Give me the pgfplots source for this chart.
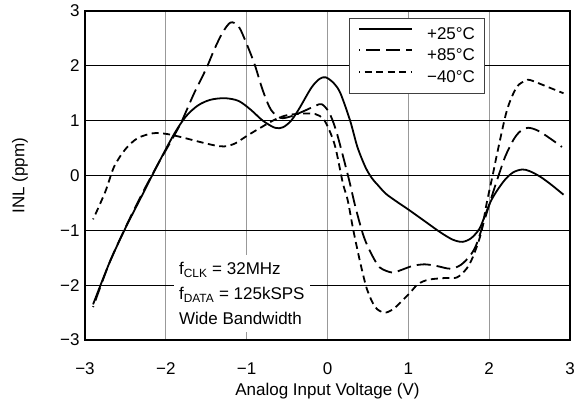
\documentclass[border=0pt]{standalone}
\usepackage{pgfplots}
\pgfplotsset{compat=1.18}
\usepackage{fontspec}
\setmainfont{Liberation Sans}
\begin{document}
\begin{tikzpicture}
\useasboundingbox (-85pt,-67pt) rectangle (493pt,340pt);
\begin{axis}[
  at={(0,0)}, anchor=south west,
  scale only axis, width=485pt, height=329pt,
  xmin=-3, xmax=3, ymin=-3, ymax=3,
  xtick={-3,-2,-1,0,1,2,3}, ytick={-3,-2,-1,0,1,2,3},
  xticklabels={−3,−2,−1,0,1,2,3},
  yticklabels={−3,−2,−1,0,1,2,3},
  major tick length=0pt,
  grid=major,
  x grid style={gray!80, line width=1.3pt},
  y grid style={black, line width=0.7pt},
  axis line style={line width=2.5pt},
  tick label style={font=\fontsize{17}{20}\selectfont},
  xticklabel style={yshift=-19pt},
  yticklabel style={xshift=-2pt},
  xlabel={Analog Input Voltage (V)},
  ylabel={INL (ppm)},
  every axis x label/.style={at={(axis description cs:0.5,-0.156)}, anchor=center, font=\fontsize{17}{20}\selectfont},
  every axis y label/.style={at={(axis description cs:-0.134,0.5)}, anchor=center, rotate=90, font=\fontsize{17}{20}\selectfont},
  legend style={at={(axis description cs:0.544,0.98)}, anchor=north west,
    draw=black!75, line width=0.9pt, fill=white,
    font=\fontsize{17}{20}\selectfont,
    inner xsep=9pt, inner ysep=8.5pt, row sep=6pt, column sep=14pt,
    nodes={inner sep=0pt, text height=12.5pt, text depth=3pt}},
  legend cell align=left,
  legend image code/.code={\path (0pt,0pt); \draw[#1, line width=1.8pt] (0pt,5.5pt) -- (53pt,5.5pt);},
]
\addplot[black, line width=1.8pt, smooth] coordinates {
(-2.9,-2.35) (-2.7,-1.6) (-2.5,-0.96) (-2.3,-0.38) (-2.1,0.2) (-1.9,0.75)
(-1.75,1.08) (-1.6,1.28) (-1.45,1.38) (-1.27,1.41) (-1.1,1.36) (-0.95,1.2)
(-0.8,1.0) (-0.65,0.87) (-0.55,0.88) (-0.45,1.0) (-0.35,1.22) (-0.2,1.6)
(-0.1,1.76) (-0.02,1.79) (0.08,1.68) (0.16,1.5) (0.28,1.0) (0.37,0.52)
(0.47,0.15) (0.55,-0.05) (0.62,-0.17) (0.72,-0.33) (0.85,-0.47) (1.0,-0.62)
(1.2,-0.83) (1.4,-1.04) (1.55,-1.17) (1.67,-1.21) (1.78,-1.14) (1.88,-0.97)
(1.95,-0.72) (2.02,-0.47) (2.1,-0.27) (2.2,-0.07) (2.3,0.06) (2.41,0.11)
(2.5,0.08) (2.63,-0.02) (2.77,-0.17) (2.92,-0.35)};
\addlegendentry{+25°C}
\addplot[black, line width=1.8pt, smooth, dash pattern=on 14pt off 6pt, dash phase=13pt] coordinates {
(-2.9,-2.4) (-2.7,-1.6) (-2.5,-0.95) (-2.3,-0.35) (-2.1,0.2) (-1.9,0.72)
(-1.8,1.0) (-1.65,1.5) (-1.5,1.95) (-1.4,2.3) (-1.3,2.6) (-1.2,2.79)
(-1.1,2.72) (-1.0,2.4) (-0.9,2.02) (-0.8,1.55) (-0.7,1.2) (-0.58,1.05)
(-0.45,1.08) (-0.3,1.17) (-0.15,1.27) (-0.07,1.3) (0.02,1.15) (0.1,0.85)
(0.18,0.42) (0.27,-0.1) (0.35,-0.6) (0.45,-1.12) (0.55,-1.45) (0.65,-1.68)
(0.8,-1.77) (0.9,-1.73) (1.05,-1.65) (1.2,-1.62) (1.35,-1.65) (1.52,-1.7)
(1.65,-1.63) (1.77,-1.45) (1.85,-1.23) (1.97,-0.68) (2.05,-0.3) (2.11,-0.03)
(2.2,0.35) (2.3,0.65) (2.38,0.8) (2.48,0.87) (2.6,0.82) (2.75,0.68) (2.9,0.52)};
\addlegendentry{+85°C}
\addplot[black, line width=1.8pt, smooth, dash pattern=on 7pt off 4.5pt, dash phase=6pt] coordinates {
(-2.9,-0.8) (-2.75,-0.3) (-2.64,0.16) (-2.5,0.48) (-2.35,0.68) (-2.16,0.77)
(-2.0,0.76) (-1.81,0.7) (-1.6,0.62) (-1.4,0.55) (-1.28,0.53) (-1.15,0.58)
(-1.0,0.72) (-0.83,0.87) (-0.65,1.02) (-0.5,1.1) (-0.3,1.13) (-0.15,1.12)
(-0.05,1.03) (0.03,0.8) (0.1,0.5) (0.19,-0.14) (0.25,-0.45) (0.32,-1.0)
(0.41,-1.62) (0.49,-2.08) (0.59,-2.4) (0.7,-2.5) (0.8,-2.45) (0.9,-2.32)
(1.02,-2.14) (1.12,-1.98) (1.25,-1.9) (1.45,-1.87) (1.6,-1.86) (1.72,-1.7)
(1.8,-1.48) (1.9,-1.05) (1.97,-0.5) (2.05,0.05) (2.1,0.41) (2.22,1.19)
(2.34,1.61) (2.45,1.73) (2.51,1.74) (2.7,1.63) (2.92,1.5)};
\addlegendentry{−40°C}
\node[fill=white, anchor=north west, align=left, inner xsep=5pt, inner ysep=7pt,
  font=\fontsize{17}{25}\selectfont] at (axis cs:-1.9,-1.45)
  {f\textsubscript{CLK} = 32MHz\\f\textsubscript{DATA} = 125kSPS\\Wide Bandwidth};
\end{axis}
\end{tikzpicture}
\end{document}
